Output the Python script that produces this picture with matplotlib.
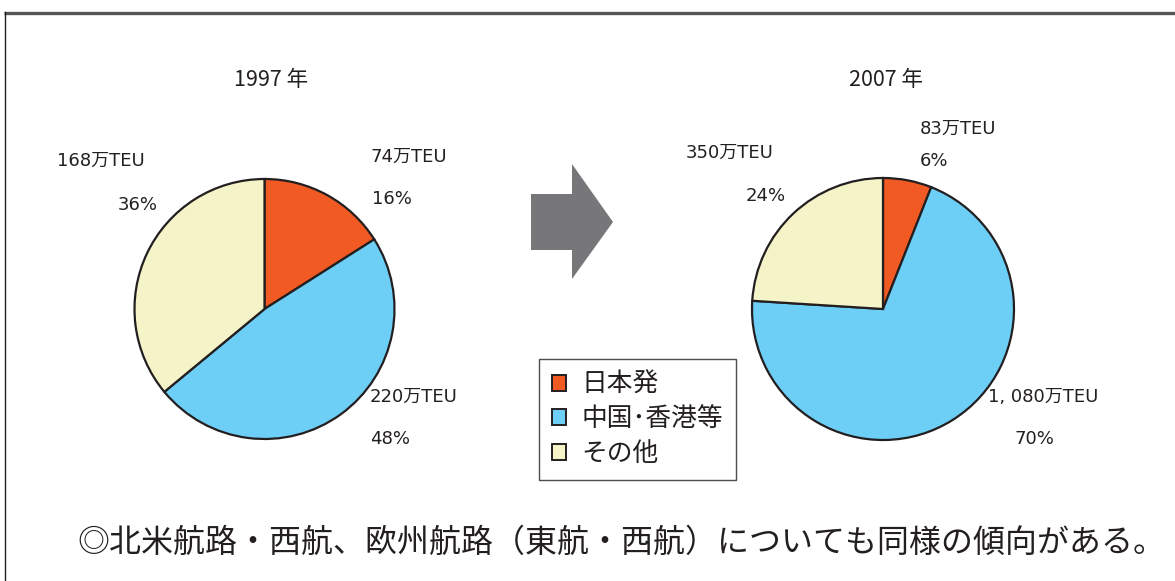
import matplotlib.pyplot as plt
from matplotlib.patches import Polygon, Patch

plt.rcParams["font.family"] = ["Noto Sans CJK JP", "DejaVu Sans"]

# data
categories = ["日本発", "中国・香港等", "その他"]
legend_labels = ["日本発", "中国･香港等", "その他"]
years = ["1997 年", "2007 年"]
teu_1997 = [74, 220, 168]       # 万TEU
teu_2007 = [83, 1080, 350]
share_1997 = [16, 48, 36]       # %
share_2007 = [6, 70, 24]
note = "◎北米航路・西航、欧州航路（東航・西航）についても同様の傾向がある。"

COLORS = ["#F15A22", "#6DCFF6", "#F5F3C8"]
EDGE = "#231F20"
TEXT = "#231F20"
W, H = 1175, 581


def fmt_teu(v):
    return f"{v:,}".replace(",", ", ") + "万TEU"


def draw_pie(fig, cx, cy, r, shares):
    ax = fig.add_axes([(cx - r) / W, (H - cy - r) / H, 2 * r / W, 2 * r / H])
    wedges, _ = ax.pie(
        shares,
        colors=COLORS,
        startangle=90,
        counterclock=False,
        wedgeprops=dict(edgecolor=EDGE, linewidth=1.6),
    )
    for w in wedges:
        w.set_clip_on(False)
    ax.set_xlim(-1, 1)
    ax.set_ylim(-1, 1)
    ax.axis("off")
    return wedges


fig = plt.figure(figsize=(W / 100, H / 100), dpi=100)

# overlay in pixel coordinates for frame, arrow and text
ov = fig.add_axes([0, 0, 1, 1])
ov.set_xlim(0, W)
ov.set_ylim(H, 0)
ov.axis("off")

# frame
ov.plot([4, W], [12.5, 12.5], color="#555555", lw=2.4, solid_capstyle="butt")
ov.plot([4.5, 4.5], [12, H], color=EDGE, lw=1.0)

draw_pie(fig, 264.5, 309, 130, share_1997)
draw_pie(fig, 883, 309, 131, share_2007)

# arrow
arrow = Polygon(
    [(531, 194), (572, 194), (572, 164), (613, 222), (572, 279), (572, 250), (531, 250)],
    closed=True, facecolor="#77777A", edgecolor="none",
)
ov.add_patch(arrow)

# titles
ov.text(271, 80, years[0], ha="center", va="center", fontsize=15.5, color=TEXT)
ov.text(886, 80, years[1], ha="center", va="center", fontsize=15.5, color=TEXT)

lab = dict(ha="left", va="center", fontsize=13, color=TEXT,
           family=["DejaVu Sans", "Noto Sans CJK JP"])
# 1997 labels
ov.text(370, 157, fmt_teu(teu_1997[0]), **lab)
ov.text(372, 199, f"{share_1997[0]}%", **lab)
ov.text(370, 397, fmt_teu(teu_1997[1]), **lab)
ov.text(370, 439, f"{share_1997[1]}%", **lab)
ov.text(57, 161, fmt_teu(teu_1997[2]), **lab)
ov.text(118, 205, f"{share_1997[2]}%", **lab)
# 2007 labels
ov.text(920, 129, fmt_teu(teu_2007[0]), **lab)
ov.text(920, 161, f"{share_2007[0]}%", **lab)
ov.text(988, 397, fmt_teu(teu_2007[1]), **lab)
ov.text(1015, 439, f"{share_2007[1]}%", **lab)
ov.text(686, 153, fmt_teu(teu_2007[2]), **lab)
ov.text(746, 196, f"{share_2007[2]}%", **lab)

# legend
handles = [Patch(facecolor=c, edgecolor=EDGE, linewidth=1.4) for c in COLORS]
leg = fig.legend(
    handles, legend_labels,
    loc="upper left", bbox_to_anchor=(539 / W, 1 - 359 / H),
    fontsize=18.5, frameon=True, fancybox=False, edgecolor=EDGE,
    handlelength=0.56, handleheight=0.56, handletextpad=0.6,
    labelspacing=0.33, borderpad=0.5, borderaxespad=0,
)
leg.get_frame().set_linewidth(1.0)
for t in leg.get_texts():
    t.set_color(TEXT)

# bottom note
ov.text(621, 543, note, ha="center", va="center", fontsize=23, color=TEXT)

fig.savefig("out.png", dpi=100)
